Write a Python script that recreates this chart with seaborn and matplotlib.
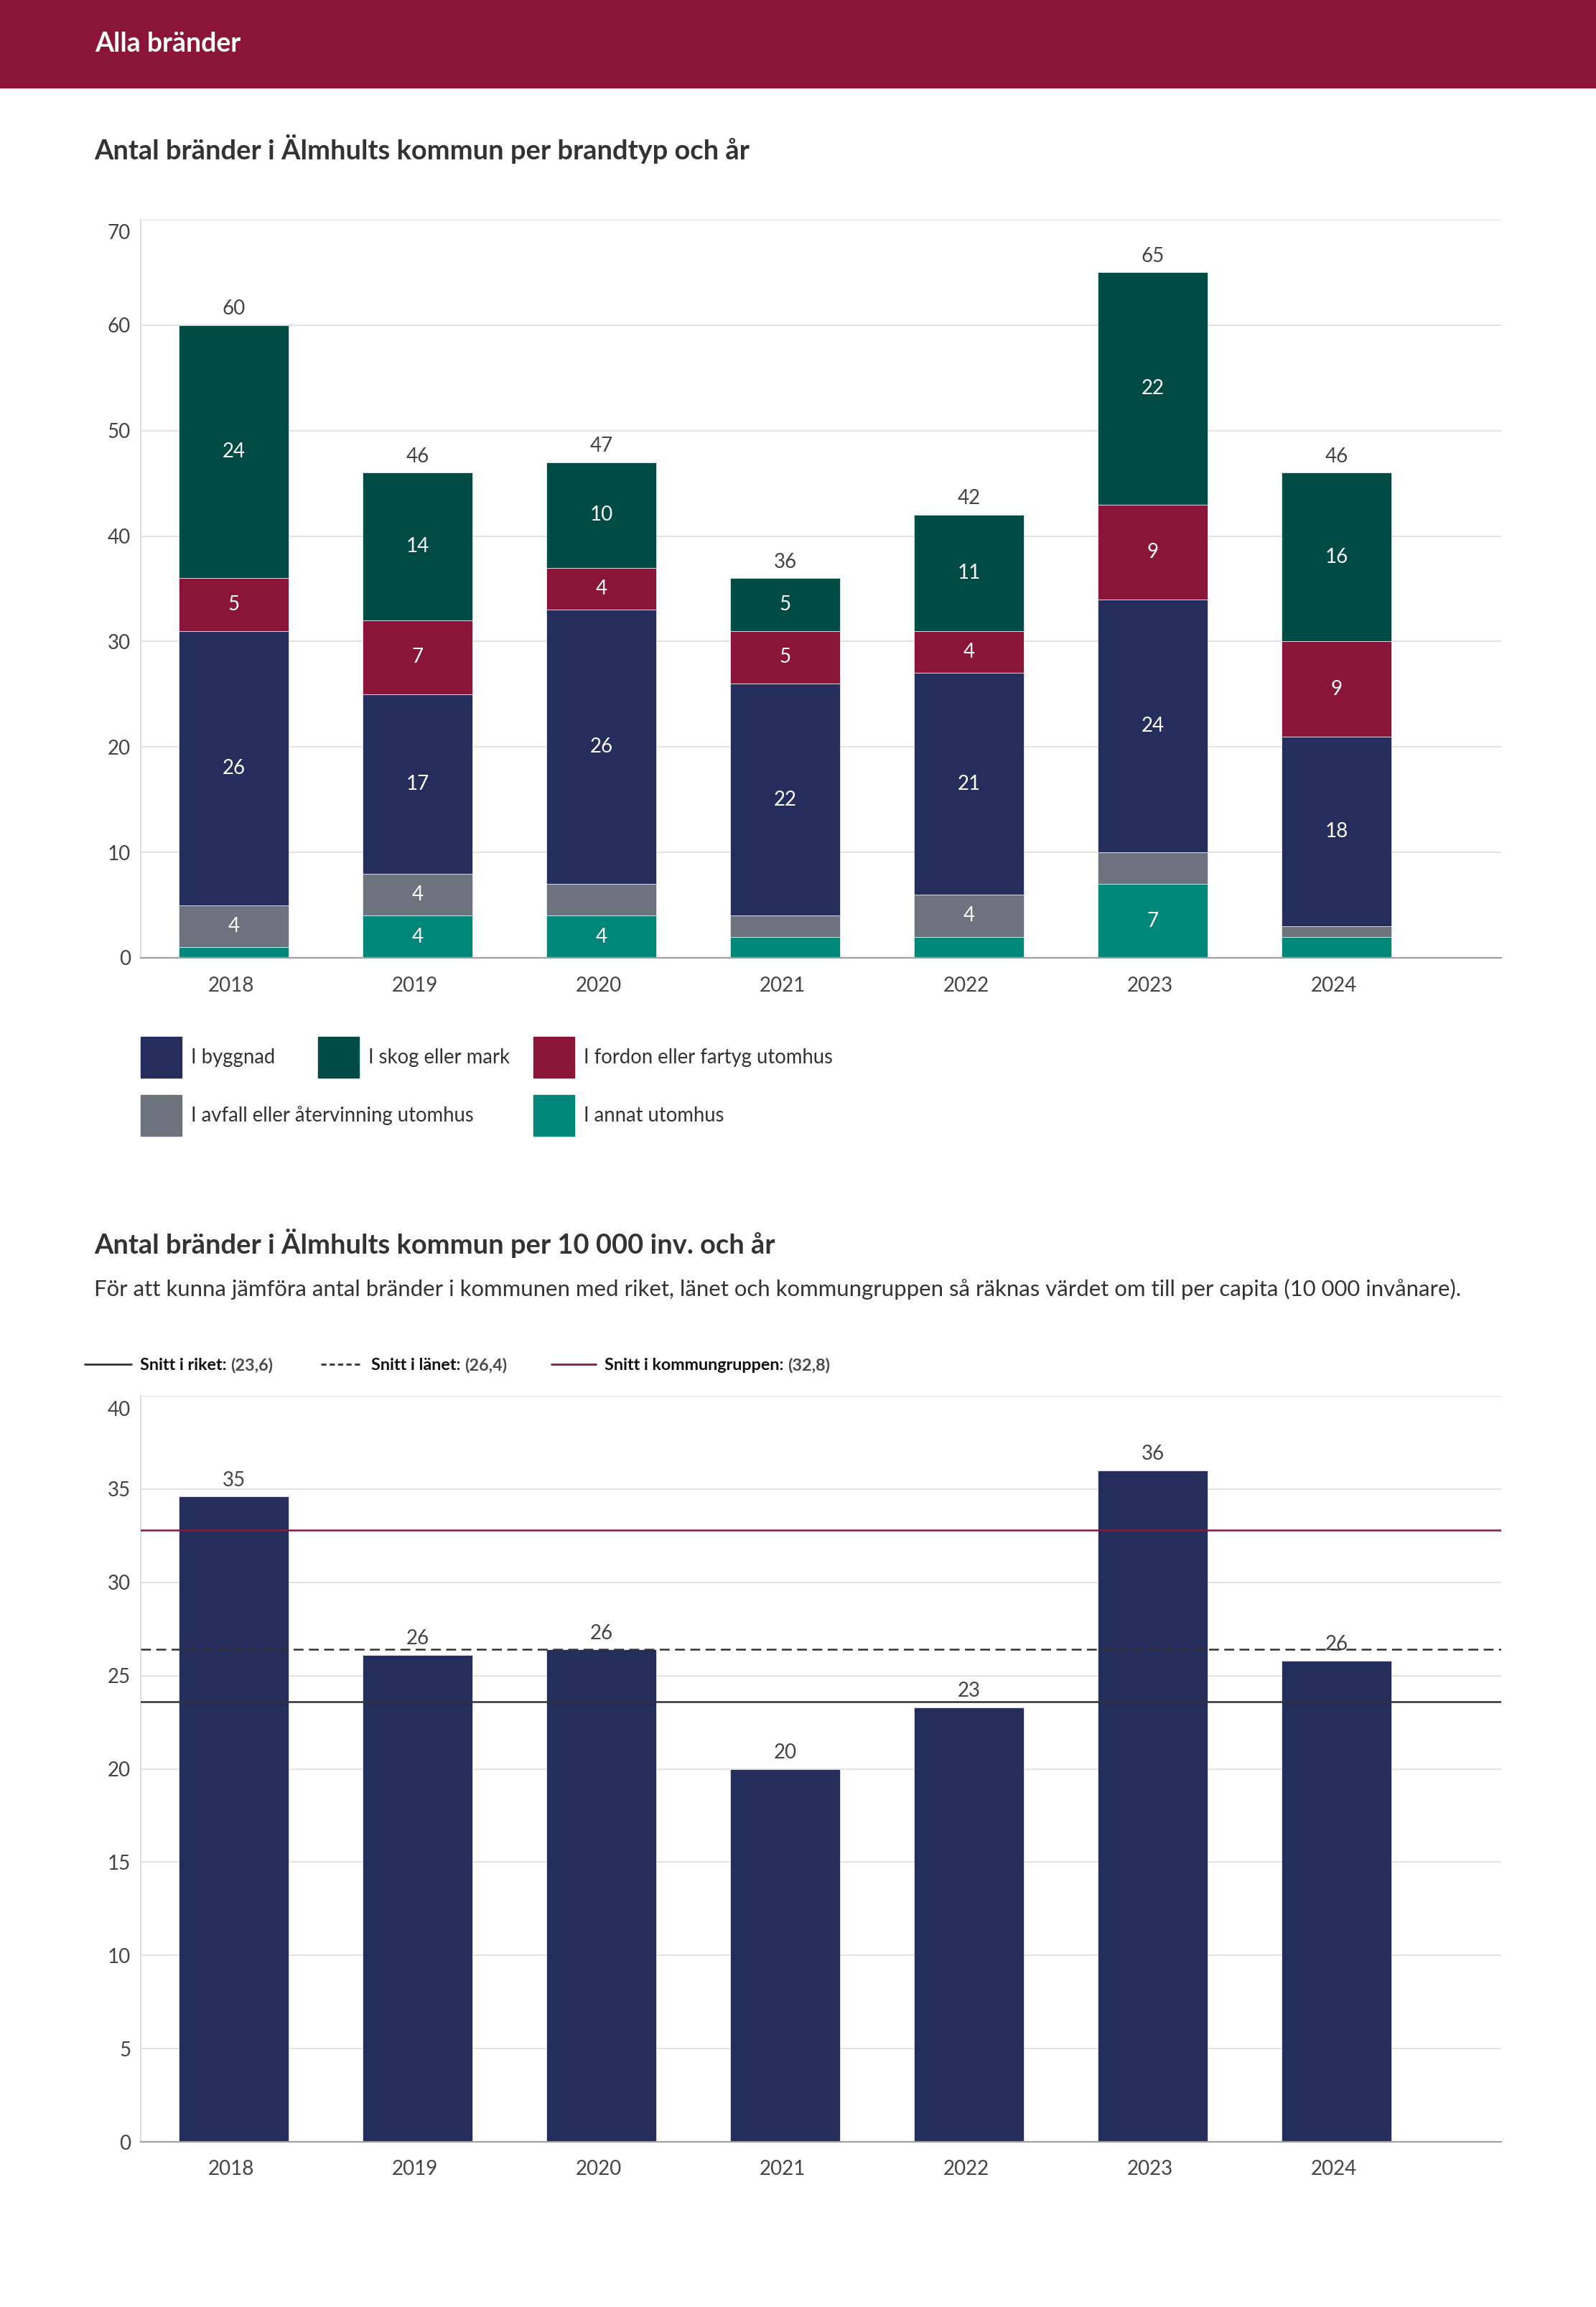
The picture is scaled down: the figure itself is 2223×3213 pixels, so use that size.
import numpy as np
import pandas as pd
import matplotlib
matplotlib.use("Agg")
import matplotlib.pyplot as plt
from matplotlib.patches import Rectangle
from matplotlib.lines import Line2D
from matplotlib.transforms import ScaledTranslation
import seaborn as sns

# --- data ---
years = ["2018", "2019", "2020", "2021", "2022", "2023", "2024"]

# fire types, listed bottom to top of the stack
annat = [1, 4, 4, 2, 2, 7, 2]
avfall = [4, 4, 3, 2, 4, 3, 1]
byggnad = [26, 17, 26, 22, 21, 24, 18]
fordon = [5, 7, 4, 5, 4, 9, 9]
skog = [24, 14, 10, 5, 11, 22, 16]

type_names = ["I annat utomhus", "I avfall eller återvinning utomhus", "I byggnad",
              "I fordon eller fartyg utomhus", "I skog eller mark"]

# fires per 10 000 inhabitants
per_capita = [34.6, 26.1, 26.4, 20.0, 23.3, 36.0, 25.8]
snitt_names = ["Snitt i riket:", "Snitt i länet:", "Snitt i kommungruppen:"]
snitt_values = [23.6, 26.4, 32.8]

# --- style ---
NAVY = "#252d5c"
GREEN = "#004c45"
CRIMSON = "#8b1538"
GREY = "#6c737c"
TEAL = "#00877a"
TEXT = "#333333"
TICK = "#444444"
type_colors = [TEAL, GREY, NAVY, CRIMSON, GREEN]

sns.set_style("white")
plt.rcParams["font.family"] = ["Lato", "DejaVu Sans"]

W, H = 2223, 3213
fig = plt.figure(figsize=(W / 100, H / 100), dpi=100)


def fx(x):
    return x / W


def fy(y):
    return 1 - y / H


def style_axes(ax, ymax, step, xpad):
    ax.set_ylim(0, ymax)
    ax.set_yticks(np.arange(0, ymax + 1, step))
    ax.set_xlim(-0.506, 6.896)
    ax.yaxis.grid(True, color="#dddddd", lw=1.2)
    ax.set_axisbelow(True)
    ax.set_xlabel("")
    ax.set_ylabel("")
    for side in ["top", "right"]:
        ax.spines[side].set_visible(False)
    ax.spines["left"].set_color("#d5d5d5")
    ax.spines["left"].set_linewidth(1.2)
    ax.spines["bottom"].set_color("#a0a0a0")
    ax.spines["bottom"].set_linewidth(1.6)
    ax.tick_params(axis="both", length=0, labelsize=20, colors=TICK)
    ax.tick_params(axis="y", pad=10)
    ax.tick_params(axis="x", pad=xpad)
    # the top tick label sits a little below its gridline in the reference
    top = ax.get_yticklabels()[-1]
    top.set_transform(top.get_transform() + ScaledTranslation(0, -0.17, fig.dpi_scale_trans))
    # year labels are nudged slightly left of the bar centres
    for lab in ax.get_xticklabels():
        lab.set_transform(lab.get_transform() + ScaledTranslation(-0.04, 0, fig.dpi_scale_trans))


# header band
fig.patches.append(Rectangle((0, fy(122)), 1, 122 / H, transform=fig.transFigure,
                             color=CRIMSON, zorder=0))
fig.text(fx(132), fy(72), "Alla bränder", color="white", fontsize=27,
         fontweight="bold", va="baseline")

# --- chart 1: stacked bars per fire type ---
fig.text(fx(131), fy(222), "Antal bränder i Älmhults kommun per brandtyp och år",
         color=TEXT, fontsize=27.4, fontweight="bold", va="baseline")

ax1 = fig.add_axes([fx(196), fy(1334), (2091 - 196) / W, (1334 - 306) / H])
df = pd.DataFrame({"år": years, "annat": annat, "avfall": avfall,
                   "byggnad": byggnad, "fordon": fordon, "skog": skog})
bottom = np.zeros(len(years))
for col, color in zip(["annat", "avfall", "byggnad", "fordon", "skog"], type_colors):
    sns.barplot(data=df, x="år", y=col, color=color, saturation=1, width=0.6,
                errorbar=None, bottom=bottom.copy(), edgecolor="#e6e7ee",
                linewidth=0.6, ax=ax1)
    seg_labels = [str(v) if v >= 4 else "" for v in df[col]]
    ax1.bar_label(ax1.containers[-1], labels=seg_labels, label_type="center",
                  color="white", fontsize=20)
    bottom += df[col].to_numpy()

totals = [str(int(v)) for v in bottom]
ax1.bar_label(ax1.containers[-1], labels=totals, padding=7, color=TICK, fontsize=20)
style_axes(ax1, 70, 10, 19)

# legend for chart 1 (flow layout as in the reference)
legend_order = [2, 4, 3, 1, 0]
legend_pos = [(196, 1444), (443, 1444), (743, 1444), (196, 1525), (743, 1525)]
for idx, (x, y) in zip(legend_order, legend_pos):
    fig.patches.append(Rectangle((fx(x), fy(y + 57)), 57 / W, 57 / H,
                                 transform=fig.transFigure, color=type_colors[idx]))
    fig.text(fx(x + 70), fy(y + 29), type_names[idx], va="center", ha="left",
             fontsize=19.8, color=TEXT)

# --- chart 2: per 10 000 inhabitants ---
fig.text(fx(131), fy(1746), "Antal bränder i Älmhults kommun per 10 000 inv. och år",
         color=TEXT, fontsize=27.4, fontweight="bold", va="baseline")
fig.text(fx(131), fy(1805),
         "För att kunna jämföra antal bränder i kommunen med riket, länet och "
         "kommungruppen så räknas värdet om till per capita (10 000 invånare).",
         color=TEXT, fontsize=22.4, va="baseline")

ax2 = fig.add_axes([fx(196), fy(2983), (2091 - 196) / W, (2983 - 1944) / H])
sns.barplot(x=years, y=per_capita, color=NAVY, saturation=1, width=0.6,
            errorbar=None, edgecolor="#e6e7ee", linewidth=0.6, ax=ax2)
ax2.bar_label(ax2.containers[0], labels=[f"{v:.0f}" for v in per_capita],
              padding=7, color=TICK, fontsize=20)

line_styles = [dict(color="#333333", ls="-"),
               dict(color="#333333", ls=(0, (5.5, 3))),
               dict(color="#7d1f3e", ls="-")]
for val, st in zip(snitt_values, line_styles):
    ax2.axhline(val, lw=1.8, zorder=5, **st)
style_axes(ax2, 40, 5, 18)

# line legend above chart 2
renderer = fig.canvas.get_renderer()
sample_x = [(118, 183), (447, 505), (768, 830)]
sample_ls = ["-", (0, (2.6, 1.6)), "-"]
for name, val, st, (x0, x1), ls in zip(snitt_names, snitt_values, line_styles, sample_x, sample_ls):
    fig.add_artist(Line2D([fx(x0), fx(x1)], [fy(1900), fy(1900)], transform=fig.transFigure,
                          color=st["color"], lw=2, ls=ls))
    t = fig.text(fx(x1 + 12), fy(1901), name + " ", fontsize=16.8, fontweight="bold",
                 color="#111111", va="center", ha="left")
    bb = t.get_window_extent(renderer)
    fig.text(bb.x1 / W, fy(1901), "(" + f"{val:.1f}".replace(".", ",") + ")",
             fontsize=16.8, fontweight="bold", color="#4a4a4a", va="center", ha="left")

fig.savefig("out.png", dpi=100)
